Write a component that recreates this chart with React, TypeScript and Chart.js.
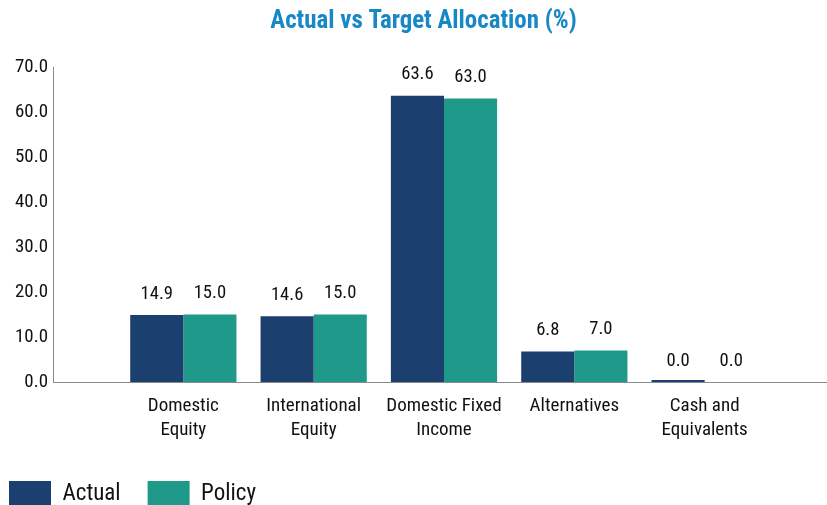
import React, { useEffect, useRef } from "react";
import { Chart, registerables } from "chart.js";

Chart.register(...registerables);

const titleText = "Actual vs Target Allocation (%)";
const categories: string[][] = [
  ["Domestic", "Equity"],
  ["International", "Equity"],
  ["Domestic Fixed", "Income"],
  ["Alternatives"],
  ["Cash and", "Equivalents"],
];
const actualValues: number[] = [14.9, 14.6, 63.6, 6.8, 0.0];
const policyValues: number[] = [15.0, 15.0, 63.0, 7.0, 0.0];
const seriesNames: string[] = ["Actual", "Policy"];
const yMin = 0;
const yMax = 70;
const yStep = 10;

const FONT_CANDIDATES = [
  "Roboto Condensed",
  "Liberation Sans Narrow",
  "Arial Narrow",
  "Liberation Sans",
];
const ACTUAL_COLOR = "#1B3F6E";
const POLICY_COLOR = "#1F9A8A";
const TITLE_COLOR = "#1787C6";
const TEXT_COLOR = "#111111";

const CANVAS_W = 865;
const CANVAS_H = 517;
const OFFSET_X = -18;

function fontExists(ctx: CanvasRenderingContext2D, fam: string): boolean {
  const s = "Domestic Fixed Income 0123456789 AaBbWw";
  ctx.font = "40px monospace";
  const m = ctx.measureText(s).width;
  ctx.font = "40px serif";
  const r = ctx.measureText(s).width;
  ctx.font = `40px '${fam}', monospace`;
  const m2 = ctx.measureText(s).width;
  ctx.font = `40px '${fam}', serif`;
  const r2 = ctx.measureText(s).width;
  return m !== m2 || r !== r2;
}

function pickFamily(): string {
  const ctx = document.createElement("canvas").getContext("2d") as CanvasRenderingContext2D;
  for (const f of FONT_CANDIDATES) {
    if (fontExists(ctx, f)) return f;
  }
  return "Liberation Sans";
}

function fitSize(fam: string, weight: string, text: string, targetW: number, maxSize: number): number {
  const ctx = document.createElement("canvas").getContext("2d") as CanvasRenderingContext2D;
  ctx.font = `${weight} 40px '${fam}', sans-serif`;
  const w = ctx.measureText(text).width;
  const s = (40 * targetW) / w;
  return Math.min(maxSize, Math.round(s * 10) / 10);
}

export default function App() {
  const canvasRef = useRef<HTMLCanvasElement | null>(null);

  useEffect(() => {
    if (!canvasRef.current) return;
    const fam = pickFamily();
    const FONT = `'${fam}', 'Liberation Sans', Arial, sans-serif`;
    const titleSize = fitSize(fam, "bold", titleText, 307, 25);
    const catSize = fitSize(fam, "normal", "Domestic", 71, 20.5);
    const ySize = fitSize(fam, "normal", "70.0", 33, 19.5);
    const valSize = fitSize(fam, "normal", "14.9", 32.5, 20);
    const legSize = fitSize(fam, "normal", "Actual", 58, 24);

    const titlePlugin = {
      id: "centeredTitle",
      afterDraw(chart: any) {
        const ctx = chart.ctx;
        ctx.save();
        ctx.font = `bold ${titleSize}px ${FONT}`;
        ctx.fillStyle = TITLE_COLOR;
        ctx.textAlign = "center";
        ctx.textBaseline = "middle";
        ctx.fillText(titleText, 441.5, 22);
        ctx.restore();
      },
    };

    const valueLabelPlugin = {
      id: "valueLabels",
      afterDatasetsDraw(chart: any) {
        const ctx = chart.ctx;
        ctx.save();
        ctx.font = `${valSize}px ${FONT}`;
        ctx.fillStyle = TEXT_COLOR;
        ctx.textAlign = "center";
        ctx.textBaseline = "middle";
        chart.data.datasets.forEach((ds: any, di: number) => {
          const meta = chart.getDatasetMeta(di);
          meta.data.forEach((el: any, i: number) => {
            const v = ds.data[i];
            if (v === null || v === undefined) return;
            const top = chart.scales.y.getPixelForValue(v);
            ctx.fillText(Number(v).toFixed(1), el.x, top - 21);
          });
        });
        ctx.restore();
      },
    };

    const labels: any[] = ["", ...categories, ""];
    const actualData: (number | null)[] = [null, ...actualValues, null];
    const policyData: (number | null)[] = [null, ...policyValues, null];

    const chart = new Chart(canvasRef.current, {
      type: "bar",
      data: {
        labels,
        datasets: [
          {
            label: seriesNames[0],
            data: actualData,
            backgroundColor: ACTUAL_COLOR,
            borderWidth: 0,
            minBarLength: 2,
            categoryPercentage: 0.815,
            barPercentage: 1.0,
          },
          {
            label: seriesNames[1],
            data: policyData,
            backgroundColor: POLICY_COLOR,
            borderWidth: 0,
            categoryPercentage: 0.815,
            barPercentage: 1.0,
          },
        ],
      },
      options: {
        animation: false,
        responsive: false,
        devicePixelRatio: 1,
        layout: { padding: { top: 67, left: 0, right: 0, bottom: 0 } },
        plugins: {
          title: { display: false },
          tooltip: { enabled: false },
          legend: {
            display: true,
            position: "bottom",
            align: "start",
            labels: {
              boxWidth: 42,
              boxHeight: 26,
              padding: 27,
              color: TEXT_COLOR,
              font: { family: FONT, size: legSize },
            },
          },
        },
        scales: {
          x: {
            type: "category",
            offset: false,
            grid: { display: false, drawTicks: false },
            border: { display: true, color: "#8a8a8a", width: 1 },
            ticks: {
              autoSkip: false,
              maxRotation: 0,
              minRotation: 0,
              padding: 12,
              color: TEXT_COLOR,
              font: { family: FONT, size: catSize, lineHeight: `${24}px` },
            },
            afterFit(scale: any) {
              scale.height = 72;
            },
          },
          y: {
            min: yMin,
            max: yMax,
            grid: { display: false, drawTicks: false },
            border: { display: true, color: "#8a8a8a", width: 1 },
            ticks: {
              stepSize: yStep,
              padding: 5,
              color: TEXT_COLOR,
              font: { family: FONT, size: ySize },
              callback: (v: any) => Number(v).toFixed(1),
            },
            afterFit(scale: any) {
              scale.width = 71;
            },
          },
        },
      },
      plugins: [titlePlugin, valueLabelPlugin],
    });
    return () => chart.destroy();
  }, []);

  return (
    <div
      style={{
        position: "fixed",
        left: 0,
        top: 0,
        width: 827,
        height: 505,
        overflow: "hidden",
        background: "#ffffff",
      }}
    >
      <canvas
        ref={canvasRef}
        width={CANVAS_W}
        height={CANVAS_H}
        style={{
          position: "absolute",
          left: OFFSET_X,
          top: 0,
          width: CANVAS_W,
          height: CANVAS_H,
        }}
      />
    </div>
  );
}
